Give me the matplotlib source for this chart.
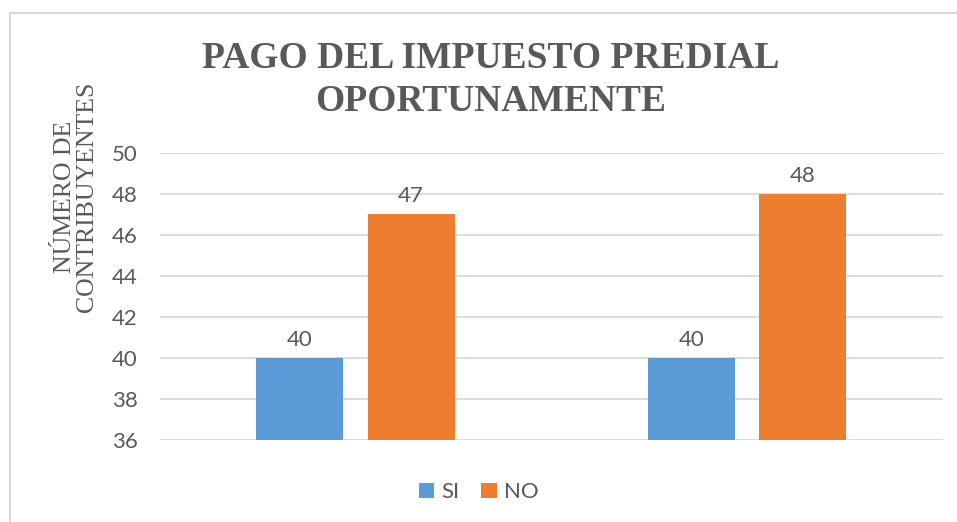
import matplotlib.pyplot as plt
from matplotlib.patches import Rectangle
import numpy as np

# data
categories = ["", ""]
si_values = [40, 40]
no_values = [47, 48]
y_ticks = [36, 38, 40, 42, 44, 46, 48, 50]

blue = "#5B9BD5"
orange = "#ED7D31"
gray_text = "#595959"
grid_gray = "#D9D9D9"

fig = plt.figure(figsize=(9.57, 5.22), dpi=100)
ax = fig.add_axes([0.167, 0.157, 0.818, 0.55])

x = np.arange(len(categories))
width = 0.222
offset = 0.142
b1 = ax.bar(x - offset, si_values, width, color=blue, label="SI", zorder=3)
b2 = ax.bar(x + offset, no_values, width, color=orange, label="NO", zorder=3)

for bars in (b1, b2):
    for rect in bars:
        h = rect.get_height()
        ax.annotate(str(h), (rect.get_x() + rect.get_width() / 2, h),
                    xytext=(0, 6), textcoords="offset points",
                    ha="center", va="bottom", fontsize=16, color=gray_text,
                    family="Lato")

ax.set_ylim(36, 50)
ax.set_xlim(-0.5, 1.5)
ax.set_yticks(y_ticks)
ax.set_xticks(x)
ax.set_xticklabels(categories)
ax.tick_params(axis="both", length=0, labelsize=16, colors=gray_text, pad=16)
for lbl in ax.get_yticklabels():
    lbl.set_family("Lato")
ax.yaxis.grid(True, color=grid_gray, linewidth=1.3, zorder=0)
for s in ax.spines.values():
    s.set_visible(False)

# y axis title, placed by hand like the original
fig.text(76 / 957, 1 - 197 / 522, "NÚMERO DE\nCONTRIBUYENTES", rotation=90,
         ha="center", va="center", multialignment="center",
         family="Liberation Serif", fontsize=18.5, color=gray_text,
         linespacing=1.0)

fig.text(0.513, 1 - 80 / 522, "PAGO DEL IMPUESTO PREDIAL\nOPORTUNAMENTE",
         ha="center", va="center", family="Liberation Serif",
         fontweight="bold", fontsize=27, color=gray_text, linespacing=1.3)

leg = fig.legend(handles=[b1, b2], loc="center", bbox_to_anchor=(0.5, 0.057),
                 ncol=2, frameon=False, handlelength=0.7,
                 handleheight=0.7, handletextpad=0.3, columnspacing=1.0,
                 prop={"family": "Lato", "size": 16})
for t in leg.get_texts():
    t.set_color(gray_text)

# outer chart border
fig.patches.append(Rectangle((10 / 957, -0.1), 1.2, 1.1 - 13 / 522,
                             transform=fig.transFigure, fill=False,
                             edgecolor=grid_gray, linewidth=1.5))

fig.savefig("out.png", dpi=100)
